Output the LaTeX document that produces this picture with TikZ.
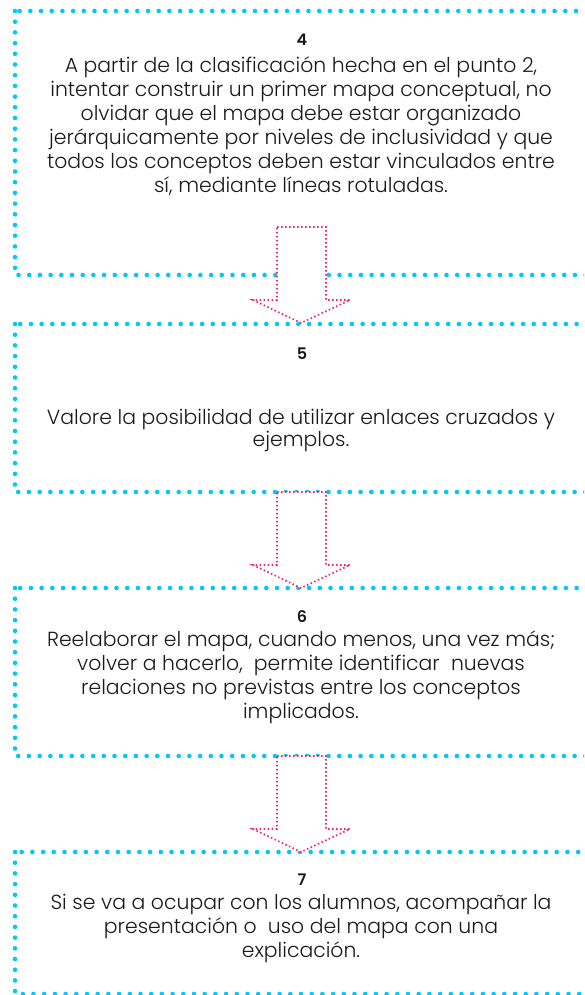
\documentclass[tikz,border=0pt]{standalone}
\usepackage{fontspec}
\setmainfont{Poppins Light}[BoldFont={Poppins SemiBold}]
\definecolor{boxcyan}{HTML}{00C8F8}
\definecolor{arrpink}{HTML}{F0246E}
\definecolor{txt}{HTML}{1A1A1A}
\newcommand{\bodyfnt}{\fontsize{20.4}{24}\selectfont\lineskiplimit=-100pt\relax}
\newcommand{\firstline}{\rule{0pt}{20pt}}
\tikzset{
  cyanbox/.style={draw=boxcyan, line width=4.6pt, line cap=round, dash pattern=on 0pt off 10.7pt},
  stepnote/.style={anchor=north, inner sep=0pt, align=center, text=txt, font=\bodyfnt},
  stepnum/.style={anchor=base, inner sep=0pt, text=txt, font=\fontsize{16}{18}\selectfont\bfseries},
  pinkarrow/.style={draw=arrpink, fill=white, line width=1.7pt, dash pattern=on 1.5pt off 2.5pt},
}
\begin{document}
\begin{tikzpicture}[x=1pt,y=-1pt]
\useasboundingbox (0,0) rectangle (584,995);
\clip (0,0) rectangle (584,995);
% boxes
\draw[cyanbox] (15,11) rectangle (620,275);
\draw[cyanbox] (15,324) rectangle (620,492);
\draw[cyanbox] (15,588) rectangle (620,756);
\draw[cyanbox] (15,852) rectangle (620,994);
% numbers
\node[stepnum] (n4) at (302,46) {4};
\node[stepnum] (n5) at (302,359) {5};
\node[stepnum] (n6) at (302,622) {6};
\node[stepnum] (n7) at (302,885) {7};
% texts (top = first baseline - 20pt)
\node[stepnote] (t4) at (301,52.5) {\firstline A partir de la clasificación hecha en el punto 2,\\intentar construir un primer mapa conceptual, no\\olvidar que el mapa debe estar organizado\\jerárquicamente por niveles de inclusividad y que\\todos los conceptos deben estar vinculados entre\\sí, mediante líneas rotuladas.};
\node[stepnote] (t5) at (301,404) {\firstline Valore la posibilidad de utilizar enlaces cruzados y\\[-1.5pt]ejemplos.};
\node[stepnote] (t6) at (301,626.7) {\firstline Reelaborar el mapa, cuando menos, una vez más;\\volver a hacerlo,\ \ permite identificar\ \ nuevas\\relaciones no previstas entre los conceptos\\implicados.};
\node[stepnote] (t7) at (301,889.3) {\firstline Si se va a ocupar con los alumnos, acompañar la\\presentación o\ \ uso del mapa con una\\explicación.};
% arrows
\coordinate (a1) at (301,227);
\coordinate (a2) at (301,492);
\coordinate (a3) at (301,756);
\foreach \a in {a1,a2,a3}{
  \draw[pinkarrow] ([xshift=-24pt]\a) -- ([xshift=25pt]\a) -- ([xshift=25pt,yshift=-73pt]\a)
    -- ([xshift=49pt,yshift=-73pt]\a) -- ([yshift=-96pt]\a) -- ([xshift=-48pt,yshift=-73pt]\a)
    -- ([xshift=-24pt,yshift=-73pt]\a) -- cycle;
}
\end{tikzpicture}
\end{document}
